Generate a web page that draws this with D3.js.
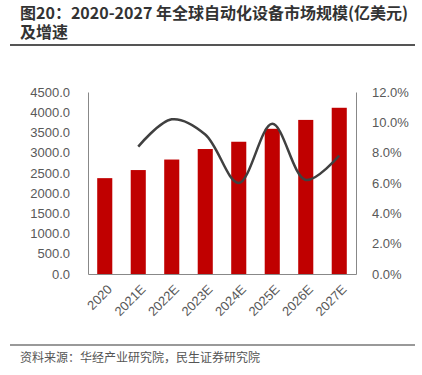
<!DOCTYPE html>
<html><head><meta charset="utf-8">
<script src="https://cdn.jsdelivr.net/npm/d3@7"></script>
<style>body{margin:0;background:#fff}svg{display:block}</style>
</head><body>
<svg id="c" width="422" height="375"></svg>
<script>
const categories = ["2020","2021E","2022E","2023E","2024E","2025E","2026E","2027E"];
const marketSize = [2370, 2570, 2830, 3090, 3270, 3590, 3810, 4110];
const growthCats = ["2021E","2022E","2023E","2024E","2025E","2026E","2027E"];
const growthRate = [8.4, 10.2, 9.2, 6.0, 9.9, 6.2, 7.8];
const leftTicks = [0,500,1000,1500,2000,2500,3000,3500,4000,4500];
const rightTicks = [0,2,4,6,8,10,12];
const titleLines = ["图20：2020-2027 年全球自动化设备市场规模(亿美元)", "及增速"];
const sourceText = "资料来源：华经产业研究院，民生证券研究院";

const svg = d3.select("#c");
const font = "'Noto Sans CJK SC','Noto Sans',sans-serif";
const m = {l:88, r:356, t:92, b:274};

// title
svg.selectAll("text.title").data(titleLines).enter().append("text")
  .attr("class","title")
  .attr("x", 20).attr("y", (d,i)=>19 + i*19)
  .attr("font-family", font).attr("font-weight", "bold").attr("font-size", 16)
  .attr("fill", "#333").text(d=>d);
svg.append("line").attr("x1",10).attr("x2",415).attr("y1",45).attr("y2",45)
  .attr("stroke","#555").attr("stroke-width",2);
svg.append("line").attr("x1",10).attr("x2",415).attr("y1",345).attr("y2",345)
  .attr("stroke","#777").attr("stroke-width",1.5);
svg.append("text").attr("x",20).attr("y",362).attr("font-family",font)
  .attr("font-size",12).attr("fill","#555").text(sourceText);

const x = d3.scaleBand().domain(categories).range([m.l, m.r]).paddingInner(0.55).paddingOuter(0.275);
const y = d3.scaleLinear().domain([0,4500]).range([m.b, m.t]);
const y2 = d3.scaleLinear().domain([0,12]).range([m.b, m.t]);

// bars
svg.append("g").selectAll("rect").data(marketSize).enter().append("rect")
  .attr("x",(d,i)=>x(categories[i])).attr("width",x.bandwidth())
  .attr("y",d=>y(d)).attr("height",d=>m.b-y(d)).attr("fill","#C00000");

// axes
const tickFont = "'Liberation Sans','DejaVu Sans',sans-serif";
const gl = svg.append("g").attr("transform",`translate(${m.l},0)`)
  .call(d3.axisLeft(y).tickValues(leftTicks).tickFormat(d3.format(".1f")).tickSize(0).tickPadding(18));
const gr = svg.append("g").attr("transform",`translate(${m.r},0)`)
  .call(d3.axisRight(y2).tickValues(rightTicks).tickFormat(d=>d.toFixed(1)+"%").tickSize(0).tickPadding(16));
const gb = svg.append("g").attr("transform",`translate(0,${m.b})`)
  .call(d3.axisBottom(x).tickSize(0));
[gl,gr,gb].forEach(g=>{
  g.select(".domain").attr("stroke","#888").attr("stroke-width",1);
  g.selectAll("text").attr("font-family",tickFont).attr("font-size",13).attr("fill","#595959");
});
gb.selectAll(".tick text").attr("text-anchor","end").attr("x",0).attr("y",0).attr("dy","0.35em")
  .attr("transform","translate(5,13) rotate(-45)");

// growth line
const line = d3.line().x((d,i)=>x(growthCats[i])+x.bandwidth()/2).y(d=>y2(d)).curve(d3.curveCatmullRom.alpha(0.5));
svg.append("path").datum(growthRate).attr("d",line).attr("fill","none")
  .attr("stroke","#404040").attr("stroke-width",2.5);
</script>
</body></html>
